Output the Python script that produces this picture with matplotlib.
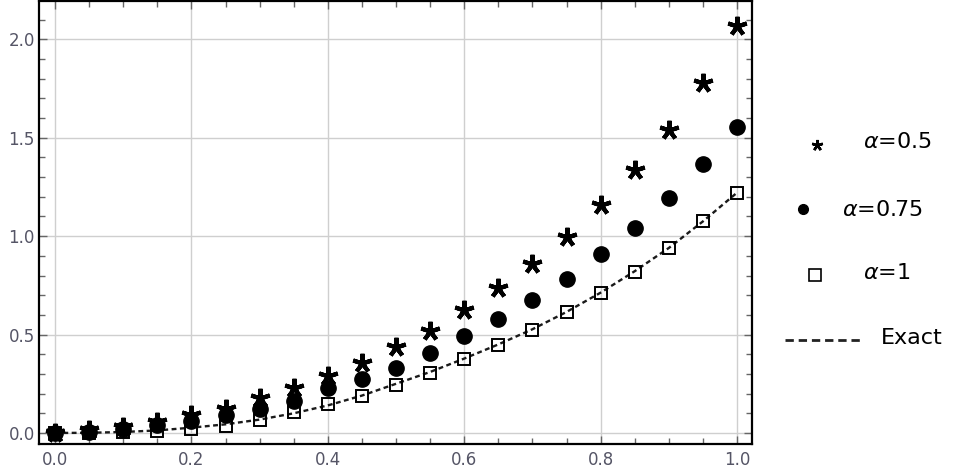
import matplotlib
matplotlib.use("Agg")
import matplotlib.pyplot as plt
from matplotlib.lines import Line2D
from matplotlib.ticker import MultipleLocator

plt.rcParams["font.family"] = ["DejaVu Sans"]
plt.rcParams["lines.scale_dashes"] = False

# data
x = [0.0, 0.05, 0.1, 0.15, 0.2, 0.25, 0.3, 0.35, 0.4, 0.45, 0.5,
     0.55, 0.6, 0.65, 0.7, 0.75, 0.8, 0.85, 0.9, 0.95, 1.0]
alpha_05 = [0.0, 0.015, 0.032, 0.057, 0.09, 0.122, 0.178, 0.227, 0.29, 0.358, 0.435,
            0.518, 0.625, 0.735, 0.857, 0.994, 1.159, 1.336, 1.540, 1.780, 2.068]
alpha_075 = [0.0, 0.005, 0.022, 0.04, 0.06, 0.09, 0.12, 0.162, 0.228, 0.276, 0.331,
             0.408, 0.493, 0.578, 0.676, 0.781, 0.908, 1.043, 1.196, 1.365, 1.556]
alpha_1 = [0.0, 0.0, 0.003, 0.01, 0.02, 0.038, 0.068, 0.105, 0.147, 0.188, 0.244,
           0.306, 0.374, 0.447, 0.523, 0.616, 0.713, 0.82, 0.938, 1.077, 1.221]
exact = [0.0, 0.001, 0.005, 0.013, 0.027, 0.044, 0.068, 0.1, 0.14, 0.19, 0.25,
         0.31, 0.378, 0.45, 0.527, 0.615, 0.713, 0.822, 0.94, 1.075, 1.221]

labels = [r"$\alpha$=0.5", r"$\alpha$=0.75", r"$\alpha$=1", "Exact"]

fig = plt.figure(figsize=(9.55, 4.68), dpi=100)
ax = fig.add_axes([39 / 955, 24 / 468, 713 / 955, 443 / 468])

ax.plot(x, exact, color="#1a1a1a", lw=1.7, dashes=(3.5, 2.5), zorder=3)
ax.plot(x, alpha_1, ls="none", marker="s", ms=9, mfc="none", mec="black", mew=1.4, zorder=4)
ax.plot(x, alpha_075, ls="none", marker="o", ms=11, color="black", zorder=4)
ax.plot(x, alpha_05, ls="none", marker=(5, 2, 0), ms=14, mew=3.0, color="black", zorder=5)

ax.set_xlim(-0.0235, 1.022)
ax.set_ylim(-0.056, 2.195)
ax.xaxis.set_major_locator(MultipleLocator(0.2))
ax.xaxis.set_minor_locator(MultipleLocator(0.05))
ax.yaxis.set_major_locator(MultipleLocator(0.5))
ax.yaxis.set_minor_locator(MultipleLocator(0.1))
ax.xaxis.set_major_formatter(matplotlib.ticker.FormatStrFormatter("%.1f"))
ax.yaxis.set_major_formatter(matplotlib.ticker.FormatStrFormatter("%.1f"))

ax.grid(True, which="major", color="#cfcfcf", lw=1.0)
ax.tick_params(which="both", direction="in", top=True, right=True, color="#666666",
               labelsize=12, labelcolor="#555566", width=1)
ax.tick_params(which="major", length=6)
ax.tick_params(which="minor", length=4)
ax.tick_params(axis="x", pad=5)
ax.tick_params(axis="y", pad=3)
for s in ax.spines.values():
    s.set_linewidth(1.6)
    s.set_color("black")

# legend, placed by hand to the right of the plot
def fx(px):
    return px / 955

def fy(py):
    return 1 - py / 468

fig.add_artist(Line2D([fx(817)], [fy(145)], ls="none", marker=(5, 2, 0), ms=8, mew=1.8, color="black"))
fig.text(fx(863), fy(142), labels[0], fontsize=16, va="center", ha="left")
fig.add_artist(Line2D([fx(803)], [fy(209)], ls="none", marker="o", ms=7, color="black"))
fig.text(fx(842), fy(210), labels[1], fontsize=16, va="center", ha="left")
fig.add_artist(Line2D([fx(815)], [fy(275)], ls="none", marker="s", ms=8, mfc="none", mec="black", mew=1.2))
fig.text(fx(863), fy(273), labels[2], fontsize=16, va="center", ha="left")
fig.add_artist(Line2D([fx(785), fx(862)], [fy(340), fy(340)], color="#222222", lw=2, dashes=(6, 3.5)))
fig.text(fx(881), fy(338), labels[3], fontsize=16, va="center", ha="left")

fig.savefig("out.png", dpi=100)
